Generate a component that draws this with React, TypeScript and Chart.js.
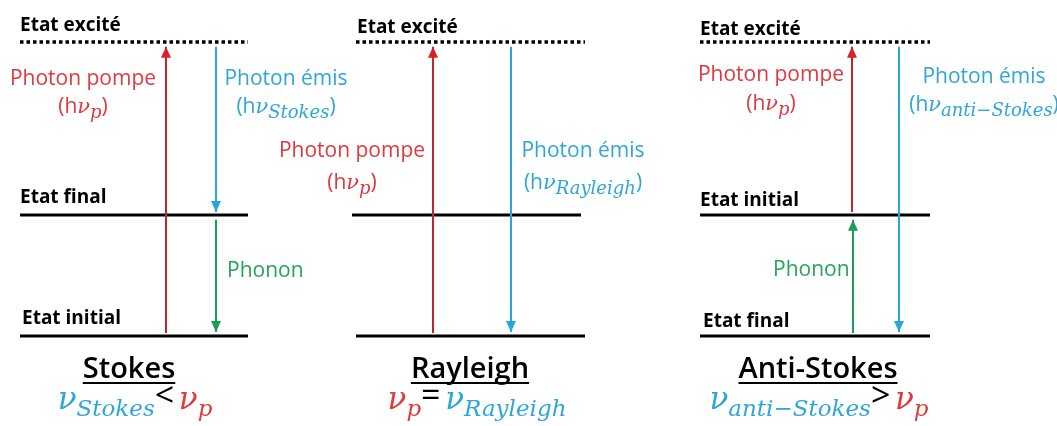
import { useEffect, useRef } from "react";
import { Chart, registerables } from "chart.js";
Chart.register(...registerables);

// ---- data ----
const panelNames = ["Stokes", "Rayleigh", "Anti-Stokes"];
const levelEnergy = [0, 1, 2.43]; // ground, vibrational, virtual excited state
const levelDotted = [false, false, true];
const panelLeft = [20, 356, 700];
const panelRight = [248, 585, 930];

const arrowKind = ["pump", "emit", "phonon", "pump", "emit", "pump", "emit", "phonon"];
const arrowX = [166, 216, 216, 433, 511, 852, 899, 853];
const arrowFrom = [0.025, 2.39, 0.96, 0.025, 2.39, 1.025, 2.39, 0.025];
const arrowTo = [2.39, 1.025, 0.033, 2.39, 0.033, 2.39, 0.033, 0.96];

const upperLabels = ["Etat final", "", "Etat initial"];
const lowerLabels = ["Etat initial", "", "Etat final"];
const excitedLabel = "Etat excité";
const pumpLabel = "Photon pompe";
const emitLabel = "Photon émis";
const phononLabel = "Phonon";
const emitSub = ["Stokes", "Rayleigh", "anti−Stokes"];

// ---- styles ----
const SANS = "'Open Sans', 'DejaVu Sans', sans-serif";
const SERIF = "'DejaVu Serif', serif";
const RED_T = "#E0393E";
const BLUE_T = "#2FA7D6";
const GREEN_T = "#27A360";
const RED_A = "#C0262C";
const RED_HEAD = "#D91F28";
const BLUE_A = "#27A6DA";
const GREEN_A = "#1A9E55";

const arrowColor: Record<string, string> = { pump: RED_A, emit: BLUE_A, phonon: GREEN_A };
const headColor: Record<string, string> = { pump: RED_HEAD, emit: BLUE_A, phonon: GREEN_A };

type Seg = { t: string; f: string; c: string; dy?: number };

function drawRich(ctx: CanvasRenderingContext2D, segs: Seg[], x: number, y: number, align: "left" | "center") {
  ctx.save();
  ctx.textBaseline = "alphabetic";
  ctx.textAlign = "left";
  let total = 0;
  const widths = segs.map((s) => {
    ctx.font = s.f;
    const w = ctx.measureText(s.t).width;
    total += w;
    return w;
  });
  let cx = align === "center" ? x - total / 2 : x;
  segs.forEach((s, i) => {
    ctx.font = s.f;
    ctx.fillStyle = s.c;
    ctx.fillText(s.t, cx, y + (s.dy || 0));
    cx += widths[i];
  });
  ctx.restore();
  return total;
}

const LBL = `21px ${SANS}`;
const BOLD = `bold 19px ${SANS}`;
const NU_L = `italic 21px ${SERIF}`;
const SUB_L = `italic 18px ${SERIF}`;
const NU_F = `italic 31px ${SERIF}`;
const SUB_F = `italic 23px ${SERIF}`;
const OP_F = `34px ${SANS}`;
const TITLE = `600 29px ${SANS}`;

function hnu(sub: string, color: string): Seg[] {
  return [
    { t: "(h", f: LBL, c: color },
    { t: "ν", f: NU_L, c: color },
    { t: sub, f: SUB_L, c: color, dy: 5 },
    { t: ")", f: LBL, c: color },
  ];
}

const pumpPos = [[83, 85, 113], [352, 157, 189], [771, 81, 110]];
const emitPos = [[286, 85, 113], [583, 157, 189], [984, 83, 111]];
const excitedY = [31, 33, 35];
const upperPos = [[20, 203], [0, 0], [700, 206]];
const lowerPos = [[22, 324], [0, 0], [703, 327]];
const phononPos = [[227, 277], [0, 0], [773, 276]];
const titleX = [129, 470, 818];
const formulaX = [135, 477, 819];

function formula(i: number): Seg[] {
  const nuB: Seg = { t: "ν", f: NU_F, c: BLUE_T };
  const nuR: Seg = { t: "ν", f: NU_F, c: RED_T };
  const pSub: Seg = { t: "p", f: SUB_F, c: RED_T, dy: 7 };
  const op = (s: string): Seg => ({ t: s, f: OP_F, c: "#000", dy: -2 });
  const sp: Seg = { t: " ", f: `18px ${SANS}`, c: "#000" };
  if (i === 0)
    return [nuB, { t: "Stokes", f: SUB_F, c: BLUE_T, dy: 7 }, op("<"), sp, nuR, pSub];
  if (i === 1)
    return [nuR, pSub, op("="), sp, nuB, { t: "Rayleigh", f: SUB_F, c: BLUE_T, dy: 7 }];
  return [nuB, { t: "anti−Stokes", f: SUB_F, c: BLUE_T, dy: 7 }, op(">"), sp, nuR, pSub];
}

const textPlugin = {
  id: "diagramText",
  afterDatasetsDraw(chart: any) {
    const ctx: CanvasRenderingContext2D = chart.ctx;
    // arrow heads
    chart.data.datasets.forEach((ds: any, di: number) => {
      if (!ds.arrow) return;
      const meta = chart.getDatasetMeta(di);
      const p0 = meta.data[0];
      const p1 = meta.data[1];
      const dir = p1.y < p0.y ? -1 : 1;
      const L = 11, W = 5;
      ctx.save();
      ctx.fillStyle = ds.headColor;
      ctx.beginPath();
      ctx.moveTo(p1.x, p1.y);
      ctx.lineTo(p1.x - W, p1.y - dir * L);
      ctx.lineTo(p1.x + W, p1.y - dir * L);
      ctx.closePath();
      ctx.fill();
      ctx.restore();
    });

    const simple = (t: string, x: number, y: number, f: string, c: string, align: CanvasTextAlign) => {
      ctx.save();
      ctx.font = f;
      ctx.fillStyle = c;
      ctx.textAlign = align;
      ctx.textBaseline = "alphabetic";
      ctx.fillText(t, x, y);
      ctx.restore();
    };

    panelNames.forEach((name, i) => {
      simple(excitedLabel, panelLeft[i] + (i === 1 ? 1 : 0), excitedY[i], BOLD, "#000", "left");
      simple(pumpLabel, pumpPos[i][0], pumpPos[i][1], LBL, RED_T, "center");
      drawRich(ctx, hnu("p", RED_T), pumpPos[i][0], pumpPos[i][2], "center");
      simple(emitLabel, emitPos[i][0], emitPos[i][1], LBL, BLUE_T, "center");
      drawRich(ctx, hnu(emitSub[i], BLUE_T), emitPos[i][0], emitPos[i][2], "center");
      if (upperLabels[i]) simple(upperLabels[i], upperPos[i][0], upperPos[i][1], BOLD, "#000", "left");
      if (lowerLabels[i]) simple(lowerLabels[i], lowerPos[i][0], lowerPos[i][1], BOLD, "#000", "left");
      if (i !== 1) simple(phononLabel, phononPos[i][0], phononPos[i][1], LBL, GREEN_T, "left");
      // title + underline
      ctx.save();
      ctx.font = TITLE;
      const w = ctx.measureText(name).width;
      ctx.restore();
      simple(name, titleX[i], 378, TITLE, "#000", "center");
      ctx.save();
      ctx.fillStyle = "#000";
      ctx.fillRect(titleX[i] - w / 2, 382, w, 2);
      ctx.restore();
      drawRich(ctx, formula(i), formulaX[i], 409, "center");
    });
  },
};

export default function App() {
  const ref = useRef<HTMLCanvasElement | null>(null);
  useEffect(() => {
    document.body.style.margin = "0";
    const canvas = ref.current;
    if (!canvas) return;
    const datasets: any[] = [];
    arrowKind.forEach((k, i) => {
      datasets.push({
        data: [
          { x: arrowX[i], y: arrowFrom[i] },
          { x: arrowX[i], y: arrowTo[i] },
        ],
        showLine: true,
        borderColor: arrowColor[k],
        borderWidth: 2,
        pointRadius: 0,
        arrow: true,
        headColor: headColor[k],
        order: 0,
      });
    });
    panelNames.forEach((_, p) => {
      levelEnergy.forEach((e, li) => {
        const l = p === 1 && li === 1 ? panelLeft[p] - 4 : panelLeft[p];
        const r = p === 1 && li === 1 ? panelRight[p] - 4 : panelRight[p];
        datasets.push({
          data: [
            { x: l, y: e },
            { x: r, y: e },
          ],
          showLine: true,
          borderColor: "#000",
          borderWidth: levelDotted[li] ? 3.5 : 3.2,
          borderDash: levelDotted[li] ? [3.5, 3] : [],
          borderCapStyle: "butt",
          pointRadius: 0,
          order: 1,
        });
      });
    });
    const chart = new Chart(canvas, {
      type: "scatter",
      data: { datasets },
      options: {
        animation: false,
        responsive: false,
        devicePixelRatio: 1,
        layout: { padding: 0 },
        plugins: { legend: { display: false }, tooltip: { enabled: false } },
        scales: {
          x: { type: "linear", min: 0, max: 1057, display: false },
          y: { type: "linear", min: -0.744, max: 2.777, display: false },
        },
      } as any,
      plugins: [textPlugin as any],
    });
    return () => chart.destroy();
  }, []);
  return (
    <div style={{ width: 1057, height: 426, background: "#fff" }}>
      <canvas ref={ref} width={1057} height={426} style={{ display: "block" }} />
    </div>
  );
}
